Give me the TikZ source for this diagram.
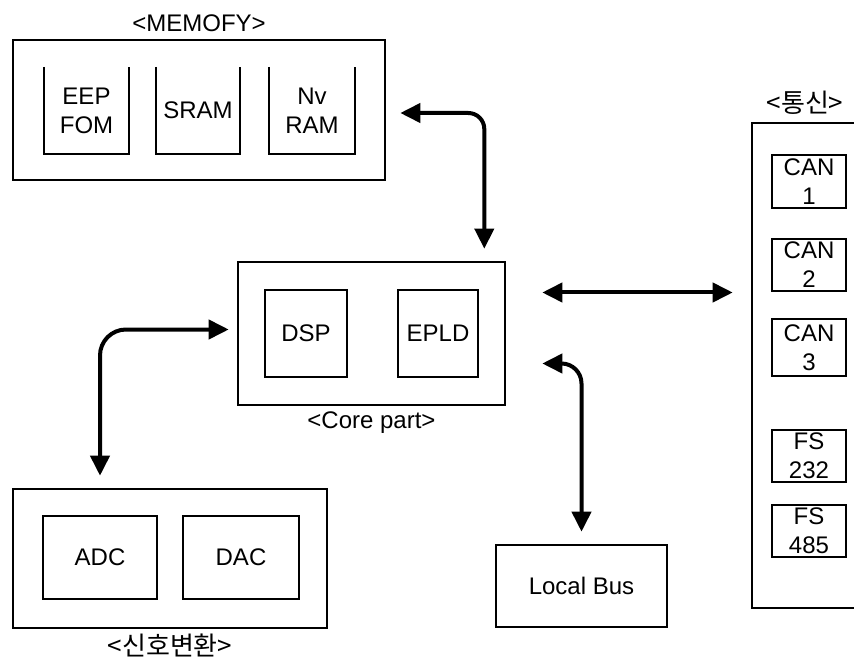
\documentclass[tikz,border=0pt]{standalone}
\usepackage{fontspec}
\setmainfont{Liberation Sans}
\newfontfamily\kor{Noto Sans CJK KR}
\usetikzlibrary{arrows.meta,positioning,calc}

\begin{document}
\begin{tikzpicture}[x=1pt,y=-1pt,
  font=\fontsize{24}{29}\selectfont,
  box/.style={draw,line width=2.6pt,inner sep=0pt,align=center},
  part/.style={box,line width=2.2pt},
  cup/.style={inner sep=0pt,align=center},
  ttl/.style={inner sep=0pt,text height=17pt,text depth=0pt},
  kor/.style={font=\kor\fontsize{26}{29}\selectfont},
  bus/.style={line width=4pt,{Triangle[length=20pt,width=19pt]}-{Triangle[length=20pt,width=19pt]}}]
\useasboundingbox (0,0) rectangle (854,660);

\node[box,minimum width=372pt,minimum height=140pt] (mem)   at (199,110)   {};
\node[cup,minimum width=85pt, minimum height=87pt]  (eep)   at (86.5,110.5) {EEP\\FOM};
\node[cup,minimum width=84pt, minimum height=87pt]  (sram)  at (198,110.5)  {SRAM};
\node[cup,minimum width=86pt, minimum height=87pt]  (nvram) at (312,110.5)  {Nv\\RAM};
\foreach \n in {eep,sram,nvram}
  \draw[line width=2.2pt] (\n.north west) -- (\n.south west) -- (\n.south east) -- (\n.north east);
\node[ttl,above=7pt of mem] (memt) {<MEMOFY>};

\node[box,minimum width=267pt,minimum height=143pt] (core) at (371.5,333.5) {};
\node[part,minimum width=82pt,minimum height=87pt]  (dsp)  at (306,333.5)   {DSP};
\node[part,minimum width=80pt,minimum height=87pt]  (epld) at (438,333.5)   {EPLD};
\node[ttl,below=5pt of core] (coret) {<Core part>};

\node[box,minimum width=118pt,minimum height=485pt] (comm)  at (811,365.5) {};
\node[part,minimum width=74pt,minimum height=53pt]  (can1)  at (809,181.5) {CAN\\1};
\node[part,minimum width=74pt,minimum height=52pt]  (can2)  at (809,265)   {CAN\\2};
\node[part,minimum width=74pt,minimum height=57pt]  (can3)  at (809,347.5) {CAN\\3};
\node[part,minimum width=74pt,minimum height=52pt]  (fs232) at (809,456)   {FS\\232};
\node[part,minimum width=74pt,minimum height=52pt]  (fs485) at (809,531)   {FS\\485};
\node[ttl,kor,above=9pt of comm,xshift=-6pt] (commt) {<통신>};

\node[box,minimum width=314pt,minimum height=139pt] (sig) at (170,558.5) {};
\node[part,minimum width=114pt,minimum height=83pt] (adc) at (100,557.5) {ADC};
\node[part,minimum width=116pt,minimum height=83pt] (dac) at (241,557.5) {DAC};
\node[ttl,kor,below=9pt of sig] (sigt) {<신호변환>};

\node[box,minimum width=171pt,minimum height=82pt] (lbus) at (581.5,586) {Local Bus};

\coordinate (hub) at ([yshift=41pt]core.east);
\draw[bus,rounded corners=16pt] ([xshift=14pt,yshift=-3pt]mem.east) -| ([xshift=-22pt,yshift=12pt]core.north east);
\draw[bus] ([xshift=36pt]hub) -- ($(comm.west |- hub)+(-18,0)$);
\draw[bus,rounded corners=20pt] ([xshift=36pt,yshift=-30pt]core.east) -| ([yshift=12pt]lbus.north);
\draw[bus,rounded corners=26pt] ([xshift=-8pt,yshift=4pt]core.west) -| ($(adc.north |- sig.north)+(0,-12)$);
\end{tikzpicture}
\end{document}
